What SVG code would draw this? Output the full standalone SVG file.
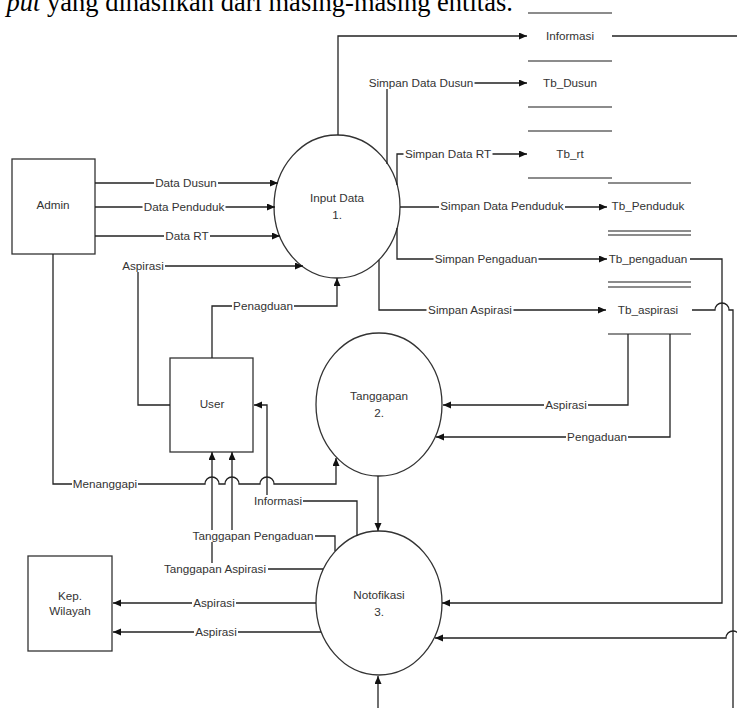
<svg xmlns="http://www.w3.org/2000/svg" width="737" height="708" viewBox="0 0 737 708">
<style>
.ln{fill:none;stroke:#222;stroke-width:1.3}
.ar{marker-end:url(#ah)}
.st{stroke:#666;stroke-width:1.6}
.box{fill:#fff;stroke:#333;stroke-width:1.3}
text{font-family:"Liberation Sans",Arial,sans-serif;font-size:11.7px;fill:#333;text-anchor:middle}
.bg{fill:#fff}
.hdr{font-family:"Liberation Serif","Times New Roman",serif;font-size:26.5px;fill:#000;text-anchor:start}
</style>
<defs>
<marker id="ah" markerWidth="9" markerHeight="8" refX="8" refY="3.5" orient="auto" markerUnits="userSpaceOnUse"><path d="M0,0 L8,3.5 L0,7 z" fill="#111"/></marker>
</defs>
<rect width="737" height="708" fill="#fff"/>
<text class="hdr" x="6.5" y="11"><tspan font-style="italic">put</tspan> yang dihasilkan dari masing-masing entitas.</text>

<g id="admin"><rect class="box" x="12" y="159" width="83" height="95"/><text x="53" y="209">Admin</text></g>
<g id="user"><rect class="box" x="170" y="358" width="83" height="94"/><text x="212" y="408">User</text></g>
<g id="kep-wilayah"><rect class="box" x="28" y="556" width="84" height="95"/><text x="70" y="600">Kep.</text><text x="70" y="615">Wilayah</text></g>
<g id="input-data"><ellipse class="box" cx="337" cy="206.5" rx="63" ry="71.5"/><text x="337" y="202">Input Data</text><text x="337" y="219">1.</text></g>
<g id="tanggapan"><ellipse class="box" cx="379" cy="404.5" rx="63" ry="71.5"/><text x="379" y="400">Tanggapan</text><text x="379" y="417">2.</text></g>
<g id="notofikasi"><ellipse class="box" cx="379" cy="603" rx="63" ry="72"/><text x="379" y="599">Notofikasi</text><text x="379" y="616">3.</text></g>

<g id="store-informasi"><line class="st" x1="528" y1="13" x2="612" y2="13"/><line class="st" x1="528" y1="61" x2="612" y2="61"/><text x="570" y="40">Informasi</text></g>
<g id="store-tb-dusun"><line class="st" x1="528" y1="107" x2="612" y2="107"/><text x="570" y="87">Tb_Dusun</text></g>
<g id="store-tb-rt"><line class="st" x1="528" y1="131" x2="612" y2="131"/><line class="st" x1="528" y1="178" x2="612" y2="178"/><text x="570" y="158">Tb_rt</text></g>
<g id="store-tb-penduduk"><line class="st" x1="608" y1="183" x2="691" y2="183"/><line class="st" x1="608" y1="231" x2="691" y2="231"/><text x="648" y="210">Tb_Penduduk</text></g>
<g id="store-tb-pengaduan"><line class="st" x1="608" y1="235" x2="691" y2="235"/><line class="st" x1="608" y1="282" x2="691" y2="282"/><text x="648" y="263">Tb_pengaduan</text></g>
<g id="store-tb-aspirasi"><line class="st" x1="608" y1="287" x2="691" y2="287"/><line class="st" x1="608" y1="334" x2="691" y2="334"/><text x="648" y="314">Tb_aspirasi</text></g>

<g id="connectors">
<path class="ln ar" d="M95,183 H278"/>
<path class="ln ar" d="M95,207 H275"/>
<path class="ln ar" d="M95,236 H280"/>
<path class="ln ar" d="M170,405 H138 V266 H303"/>
<path class="ln ar" d="M212,358 V306 H337 V278"/>
<path class="ln ar" d="M338,135 V36 H527"/>
<path class="ln" d="M612,36 H737"/>
<path class="ln ar" d="M387,164 V83 H527"/>
<path class="ln ar" d="M397,185 V154 H527"/>
<path class="ln ar" d="M400,207 H607"/>
<path class="ln ar" d="M397,228 V259 H607"/>
<path class="ln ar" d="M379,260 V310 H606"/>
<path class="ln ar" d="M690,259 H722 V603 H442"/>
<path class="ln" d="M692,310 H715 A7,7 0 0 1 729,310 H733 V708"/>
<path class="ln ar" d="M740,638 A7,7 0 0 0 726,638 H435"/>
<path class="ln ar" d="M628,334 V405 H443"/>
<path class="ln ar" d="M670,334 V437 H436"/>
<path class="ln ar" d="M53,254 V484 H205 A7,7 0 0 1 219,484 H225 A7,7 0 0 1 239,484 H260 A7,7 0 0 1 274,484 H336 V458"/>
<path class="ln ar" d="M378,476 V531"/>
<path class="ln ar" d="M357,536 V501 H267 V405 H254"/>
<path class="ln ar" d="M335,551 V536 H232 V452"/>
<path class="ln ar" d="M323,569 H212 V452"/>
<path class="ln ar" d="M316,603 H113"/>
<path class="ln ar" d="M321,632 H113"/>
<path class="ln ar" d="M378,708 V676"/>

<g id="labels">
<rect class="bg" x="154" y="177" width="64" height="12"/><text x="186" y="187">Data Dusun</text>
<rect class="bg" x="142.5" y="201" width="83" height="12"/><text x="184" y="211">Data Penduduk</text>
<rect class="bg" x="164" y="230" width="46" height="12"/><text x="187" y="240">Data RT</text>
<rect class="bg" x="121" y="260" width="44" height="12"/><text x="143" y="270">Aspirasi</text>
<rect class="bg" x="232" y="300" width="62" height="12"/><text x="263" y="310">Penagduan</text>
<rect class="bg" x="72" y="478" width="66" height="12"/><text x="105" y="488">Menanggapi</text>
<rect class="bg" x="253" y="495" width="50" height="12"/><text x="278" y="505">Informasi</text>
<rect class="bg" x="191" y="530" width="124" height="12"/><text x="253" y="540">Tanggapan Pengaduan</text>
<rect class="bg" x="162" y="563" width="106" height="12"/><text x="215" y="573">Tanggapan Aspirasi</text>
<rect class="bg" x="192" y="597" width="44" height="12"/><text x="214" y="607">Aspirasi</text>
<rect class="bg" x="194" y="626" width="44" height="12"/><text x="216" y="636">Aspirasi</text>
<rect class="bg" x="367.5" y="77" width="107" height="12"/><text x="421" y="87">Simpan Data Dusun</text>
<rect class="bg" x="403.5" y="148" width="89" height="12"/><text x="448" y="158">Simpan Data RT</text>
<rect class="bg" x="439" y="200" width="126" height="12"/><text x="502" y="210">Simpan Data Penduduk</text>
<rect class="bg" x="433.5" y="253" width="105" height="12"/><text x="486" y="263">Simpan Pengaduan</text>
<rect class="bg" x="426.5" y="304" width="87" height="12"/><text x="470" y="314">Simpan Aspirasi</text>
<rect class="bg" x="544" y="399" width="44" height="12"/><text x="566" y="409">Aspirasi</text>
<rect class="bg" x="566" y="431" width="62" height="12"/><text x="597" y="441">Pengaduan</text>
</g>
</g>
</svg>
